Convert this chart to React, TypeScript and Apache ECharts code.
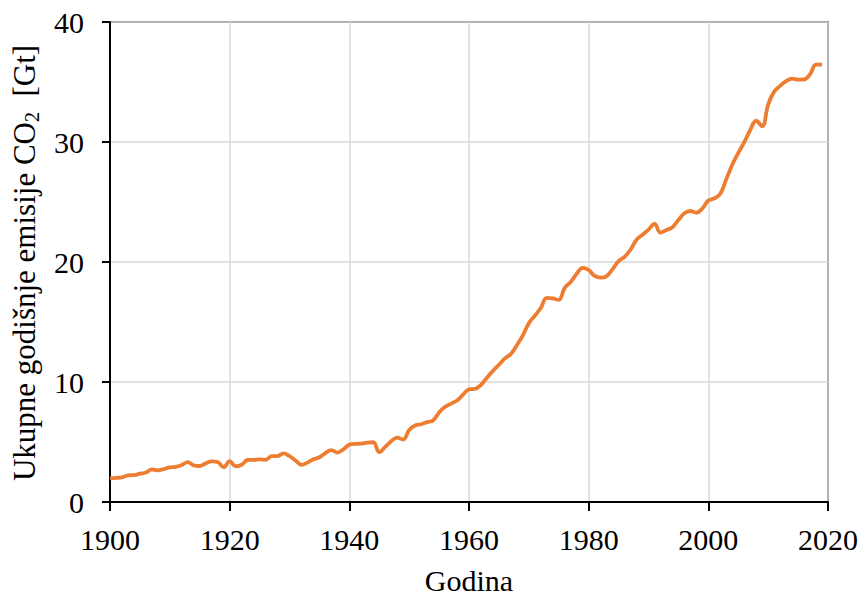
import React, { useEffect, useRef } from "react";
import * as echarts from "echarts";

const years: number[] = [];
for (let y = 1900; y <= 2019; y++) years.push(y);

const emissions: number[] = [
  1.95, 2.01, 2.05, 2.22, 2.24, 2.36, 2.46, 2.72, 2.64, 2.75,
  2.88, 2.93, 3.08, 3.33, 3.05, 3.0, 3.22, 3.38, 3.33, 2.9,
  3.4, 2.98, 3.1, 3.5, 3.51, 3.56, 3.52, 3.82, 3.83, 4.06,
  3.82, 3.46, 3.1, 3.28, 3.56, 3.73, 4.08, 4.33, 4.12, 4.38,
  4.78, 4.85, 4.86, 4.95, 4.98, 4.16, 4.59, 5.07, 5.37, 5.21,
  6.0, 6.38, 6.48, 6.66, 6.8, 7.46, 7.93, 8.2, 8.46, 8.94,
  9.39, 9.42, 9.77, 10.36, 10.93, 11.44, 11.97, 12.34, 13.07, 13.88,
  14.9, 15.52, 16.17, 17.01, 16.96, 16.85, 17.84, 18.34, 19.02, 19.51,
  19.33, 18.84, 18.69, 18.82, 19.41, 20.07, 20.43, 21.04, 21.86, 22.27,
  22.7, 23.17, 22.44, 22.67, 22.9, 23.5, 24.06, 24.25, 24.11, 24.46,
  25.12, 25.3, 25.69, 26.9, 28.11, 29.08, 29.98, 31.0, 31.77, 31.31,
  33.13, 34.2, 34.68, 35.07, 35.28, 35.2, 35.21, 35.64, 36.45, 36.44,
];

const xAxisTitle = "Godina";
const yAxisTitleMain = "Ukupne godišnje emisije CO";
const yAxisTitleSub = "2";
const yAxisTitleUnit = "  [Gt]";

const FONT = "Liberation Serif";
const FS = 30;
const TFS = 31;

export default function App() {
  const ref = useRef<HTMLDivElement>(null);
  useEffect(() => {
    if (!ref.current) return;
    const chart = echarts.init(ref.current, null, { renderer: "svg" });
    const data = years.map((y, i) => [y, emissions[i]]);
    chart.setOption({
      animation: false,
      backgroundColor: "#ffffff",
      textStyle: { fontFamily: FONT },
      grid: {
        left: 110,
        right: 34,
        top: 22,
        bottom: 94,
        outerBoundsMode: "none",
        containLabel: false,
        show: true,
        borderColor: "#000",
        borderWidth: 1.5,
        backgroundColor: "transparent",
      },
      graphic: [
        {
          type: "text",
          x: 469,
          y: 580,
          style: {
            text: xAxisTitle,
            fontFamily: FONT,
            fontSize: FS,
            fill: "#000",
            align: "center",
            verticalAlign: "middle",
          },
        },
        {
          type: "text",
          x: 24,
          y: 263,
          rotation: Math.PI / 2,
          style: {
            text: `{m|${yAxisTitleMain}}{s|${yAxisTitleSub}}{m|${yAxisTitleUnit}}`,
            fontFamily: FONT,
            fontSize: TFS,
            fill: "#000",
            align: "center",
            verticalAlign: "middle",
            rich: {
              m: { fontFamily: FONT, fontSize: TFS, fill: "#000", lineHeight: 35, verticalAlign: "middle" },
              s: { fontFamily: FONT, fontSize: 20, fill: "#000", lineHeight: 20, verticalAlign: "bottom" },
            },
          },
        },
      ],
      xAxis: {
        type: "value",
        min: 1900,
        max: 2020,
        interval: 20,
        axisLine: { show: true, onZero: false, lineStyle: { color: "#000", width: 2 } },
        axisTick: { show: true, length: 9, inside: false, lineStyle: { color: "#000", width: 2 } },
        axisLabel: {
          fontFamily: FONT,
          fontSize: FS,
          color: "#000",
          margin: 22,
          formatter: (v: number) => String(v),
        },
        splitLine: { show: true, lineStyle: { color: "#d9d9d9", width: 1.5 } },
      },
      yAxis: {
        type: "value",
        min: 0,
        max: 40,
        interval: 10,
        axisLine: { show: true, lineStyle: { color: "#000", width: 2 } },
        axisTick: { show: true, length: 8, inside: false, lineStyle: { color: "#000", width: 2 } },
        axisLabel: {
          fontFamily: FONT,
          fontSize: FS,
          color: "#000",
          margin: 26,
          formatter: (v: number) => String(v),
        },
        splitLine: { show: true, lineStyle: { color: "#d9d9d9", width: 1.5 } },
      },
      series: [
        {
          type: "line",
          data,
          smooth: 0.4,
          showSymbol: false,
          lineStyle: { color: "#ED7D31", width: 3.8 },
          itemStyle: { color: "#ED7D31" },
        },
      ],
    });
    return () => chart.dispose();
  }, []);
  return (
    <div
      ref={ref}
      style={{ position: "fixed", left: 0, top: 0, width: 862, height: 596, background: "#fff" }}
    />
  );
}
